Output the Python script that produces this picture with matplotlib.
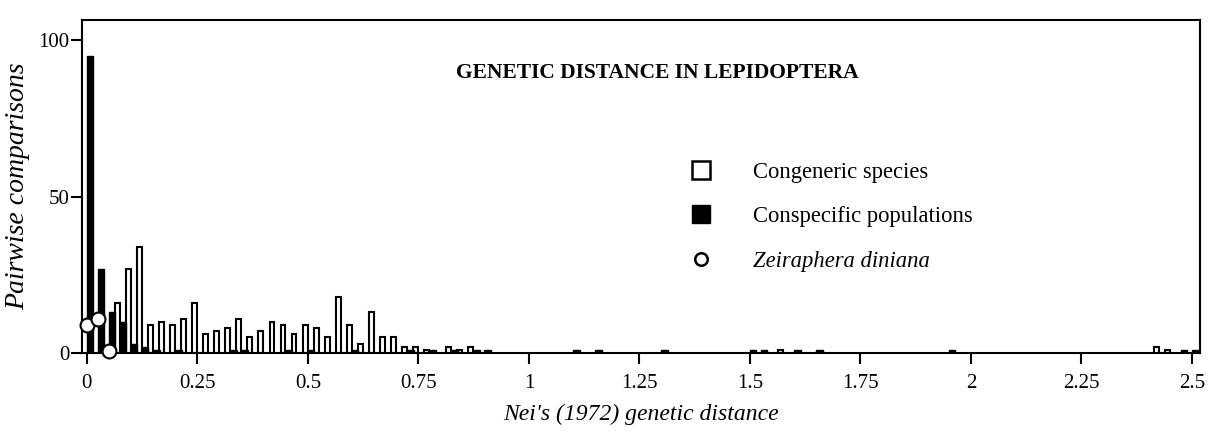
import matplotlib
matplotlib.use("Agg")
import matplotlib.pyplot as plt
from matplotlib.lines import Line2D

plt.rcParams['font.family'] = ['Liberation Serif', 'DejaVu Serif']

# bins are 0.025 wide; values are bin left edges and counts
bin_w = 0.025

# congeneric species (open bars)
cong_bins = [0.05, 0.075, 0.1, 0.125, 0.15, 0.175, 0.2, 0.225, 0.25, 0.275,
             0.3, 0.325, 0.35, 0.375, 0.4, 0.425, 0.45, 0.475, 0.5, 0.525,
             0.55, 0.575, 0.6, 0.625, 0.65, 0.675, 0.7, 0.725, 0.75, 0.8,
             0.825, 0.85, 1.55, 2.4, 2.425]
cong_counts = [16, 27, 34, 9, 10, 9, 11, 16, 6, 7,
               8, 11, 5, 7, 10, 9, 6, 9, 8, 5,
               18, 9, 3, 13, 5, 5, 2, 2, 1, 2,
               1, 2, 1, 2, 1]

# conspecific populations (black bars)
consp_bins = [0.0, 0.025, 0.05, 0.075, 0.1, 0.125, 0.15, 0.2, 0.325, 0.35,
              0.45, 0.5, 0.6, 0.725, 0.775, 0.825, 0.875, 0.9, 1.1, 1.15,
              1.3, 1.5, 1.525, 1.6, 1.65, 1.95, 2.475, 2.5]
consp_counts = [95, 27, 13, 10, 3, 2, 1, 1, 1, 1,
                1, 1, 1, 1, 1, 1, 1, 1, 1, 1,
                1, 1, 1, 1, 1, 1, 1, 1]

# Zeiraphera diniana
zei_x = [0.0, 0.025, 0.05]
zei_y = [9, 11, 0.5]

fig = plt.figure(figsize=(12.16, 4.4), dpi=100)
ax = fig.add_axes([0.0674, 0.1977, 0.9194, 0.7568])

ax.bar([b + 0.75 * bin_w for b in cong_bins], cong_counts, width=0.011,
       facecolor='white', edgecolor='black', linewidth=1.5, zorder=2)
ax.bar([b + 0.28 * bin_w for b in consp_bins], consp_counts, width=0.015,
       facecolor='black', edgecolor='black', linewidth=1.0, zorder=3)
ax.plot(zei_x, zei_y, 'o', markersize=10, markerfacecolor='white',
        markeredgecolor='black', markeredgewidth=1.5, linestyle='none',
        clip_on=False, zorder=5)

ax.set_xlim(-0.011, 2.518)
ax.set_ylim(0, 106.4)
ax.set_xticks([0, 0.25, 0.5, 0.75, 1, 1.25, 1.5, 1.75, 2, 2.25, 2.5])
ax.set_xticklabels(['0', '0.25', '0.5', '0.75', '1', '1.25', '1.5', '1.75',
                    '2', '2.25', '2.5'])
ax.set_yticks([0, 50, 100])
ax.tick_params(direction='out', length=8, width=1.5, labelsize=15)
ax.tick_params(axis='x', pad=7)
ax.tick_params(axis='y', pad=1)
for s in ax.spines.values():
    s.set_linewidth(1.5)

ax.set_xlabel("Nei's (1972) genetic distance", fontsize=17, style='italic',
              labelpad=8)
ax.set_ylabel("Pairwise comparisons", fontsize=20, style='italic',
              labelpad=6)

ax.text(0.515, 0.84, 'GENETIC DISTANCE IN LEPIDOPTERA', transform=ax.transAxes,
        ha='center', va='center', fontsize=15.5, fontweight='bold')

handles = [
    Line2D([], [], marker='s', markersize=12.5, markerfacecolor='white',
           markeredgecolor='black', markeredgewidth=1.8, linestyle='none'),
    Line2D([], [], marker='s', markersize=12.5, markerfacecolor='black',
           markeredgecolor='black', linestyle='none'),
    Line2D([], [], marker='o', markersize=9, markerfacecolor='white',
           markeredgecolor='black', markeredgewidth=1.8, linestyle='none'),
]
leg = ax.legend(handles, ['Congeneric species', 'Conspecific populations',
                          'Zeiraphera diniana'],
                loc='upper left', bbox_to_anchor=(0.5434, 0.575), frameon=False,
                fontsize=16.3, handlelength=1.0, handletextpad=1.8,
                labelspacing=1.05, borderpad=0, borderaxespad=0)
leg.get_texts()[2].set_style('italic')

fig.savefig('out.png', dpi=100)
